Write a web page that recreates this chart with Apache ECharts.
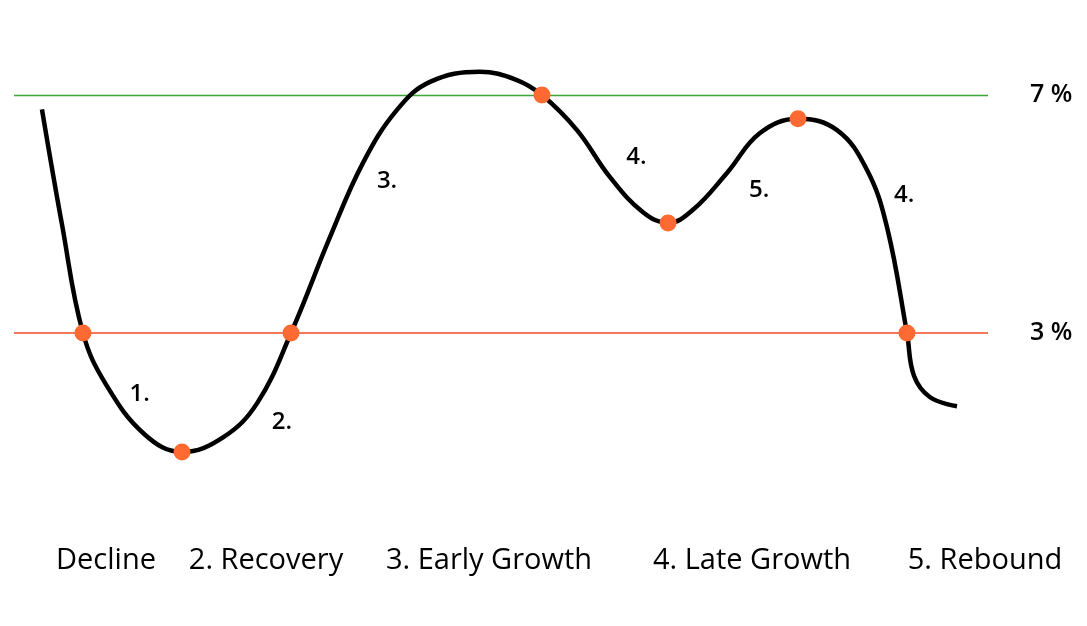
<!DOCTYPE html>
<html>
<head>
<meta charset="utf-8">
<script src="https://cdn.jsdelivr.net/npm/echarts@6/dist/echarts.min.js"></script>
<style>
html,body{margin:0;padding:0;background:#fff;}
#c{width:1087px;height:626px;}
</style>
</head>
<body>
<div id="c"></div>
<script>
// Curve: time (0-100) vs growth rate (%)
var curveT = [2.87, 4.93, 7.08, 9.5, 13.45, 17.25, 21.5, 25.0, 28.44, 32.44, 35.83, 39.32, 42.71, 47.84, 51.5, 54.2, 57.80, 61.19, 64.58, 67.15, 69.71, 73.20, 76.59, 80.49, 84.50, 87.58, 89.63, 91.68, 92.4, 94.05, 96.82];
var curveV = [6.76, 4.82, 3.0, 2.12, 1.29, 1.0, 1.25, 1.83, 3.0, 4.61, 5.86, 6.75, 7.22, 7.39, 7.26, 7.0, 6.41, 5.62, 5.03, 4.85, 5.07, 5.69, 6.36, 6.60, 6.41, 5.74, 4.78, 3.0, 2.28, 1.92, 1.77];
// Key points (orange dots)
var dotT = [7.08, 17.25, 28.44, 54.2, 67.15, 80.49, 91.68];
var dotV = [3.0, 1.0, 3.0, 7.0, 4.85, 6.6, 3.0];
// Reference levels
var upperLevel = 7;
var lowerLevel = 3;
var levelLabels = ['7 %', '3 %'];
// Phase number labels along the curve
var phaseText = ['1.', '2.', '3.', '4.', '5.', '4.'];
var phaseT = [12.9, 27.5, 38.3, 63.9, 76.5, 91.4];
var phaseV = [1.98, 1.50, 5.55, 5.96, 5.40, 5.32];
// Stage names along the bottom
var stageNames = ['Decline', '2. Recovery', '3. Early Growth', '4. Late Growth', '5. Rebound'];

var FONT = 'Open Sans';
var chart = echarts.init(document.getElementById('c'));
var stageX = [106, 266, 489, 752, 985];

var curveData = curveT.map(function (t, i) { return [t, curveV[i]]; });
var dotData = dotT.map(function (t, i) { return [t, dotV[i]]; });
var phaseData = phaseT.map(function (t, i) { return { value: [t, phaseV[i]], name: phaseText[i] }; });

chart.setOption({
  animation: false,
  backgroundColor: '#ffffff',
  grid: { left: 14, right: 99, top: 35.5, bottom: 114.5, containLabel: false },
  xAxis: { type: 'value', min: 0, max: 100, show: false },
  yAxis: { type: 'value', min: 0, max: 8, show: false },
  series: [
    {
      type: 'line',
      data: curveData,
      smooth: 0.4,
      showSymbol: false,
      lineStyle: { color: '#000000', width: 4.5, cap: 'butt', join: 'round' },
      z: 3,
      markLine: {
        silent: true,
        symbol: ['none', 'none'],
        data: [
          { yAxis: upperLevel, lineStyle: { color: '#3fa535', width: 1.4, type: 'solid', opacity: 1 },
            label: { formatter: levelLabels[0] } },
          { yAxis: lowerLevel, lineStyle: { color: '#f24a22', width: 1.6, type: 'solid', opacity: 1 },
            label: { formatter: levelLabels[1] } }
        ],
        label: {
          show: true, position: 'end', distance: 42,
          color: '#000', fontFamily: FONT, fontSize: 25, fontWeight: 600
        },
        z: 1
      }
    },
    {
      type: 'scatter',
      data: dotData,
      symbol: 'circle',
      symbolSize: 17,
      itemStyle: { color: '#ff6a33', opacity: 1 },
      z: 5
    },
    {
      type: 'scatter',
      data: phaseData,
      symbol: 'circle',
      symbolSize: 1,
      itemStyle: { color: 'rgba(0,0,0,0)', opacity: 1 },
      label: {
        show: true, position: 'inside',
        formatter: function (p) { return p.name; },
        color: '#000', fontFamily: FONT, fontSize: 24, fontWeight: 600
      },
      z: 4
    }
  ],
  graphic: stageNames.map(function (s, i) {
    return {
      type: 'text',
      x: stageX[i], y: 561,
      style: {
        text: s, fill: '#000', font: '29px "' + FONT + '"',
        textAlign: 'center', textVerticalAlign: 'middle'
      }
    };
  })
});
</script>
</body>
</html>
